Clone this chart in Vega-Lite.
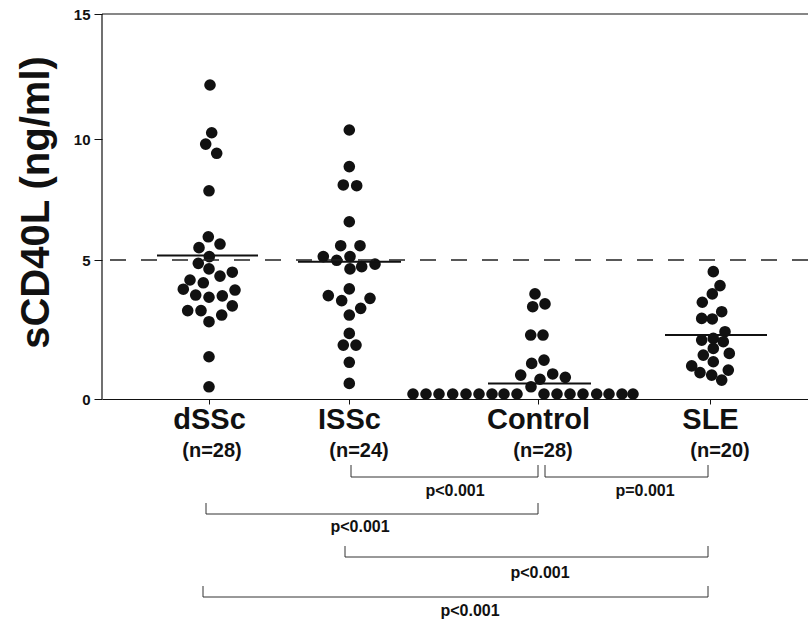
{
  "$schema": "https://vega.github.io/schema/vega-lite/v6.json",
  "width": 706,
  "height": 606,
  "autosize": {"type": "none"},
  "padding": {"left": 102, "top": 14, "right": 0, "bottom": 6},
  "background": "white",
  "config": {"view": {"stroke": null}, "font": "Liberation Sans"},
  "datasets": {
    "dots": [
      {"group": "dSSc", "x": 10.8, "value": 12.16},
      {"group": "dSSc", "x": 10.97, "value": 10.25},
      {"group": "dSSc", "x": 10.37, "value": 9.79},
      {"group": "dSSc", "x": 11.47, "value": 9.41},
      {"group": "dSSc", "x": 10.7, "value": 7.86},
      {"group": "dSSc", "x": 10.63, "value": 5.96},
      {"group": "dSSc", "x": 9.7, "value": 5.51},
      {"group": "dSSc", "x": 11.8, "value": 5.66},
      {"group": "dSSc", "x": 10.73, "value": 5.14},
      {"group": "dSSc", "x": 9.63, "value": 4.88},
      {"group": "dSSc", "x": 10.7, "value": 4.68},
      {"group": "dSSc", "x": 11.8, "value": 4.42},
      {"group": "dSSc", "x": 13.03, "value": 4.56},
      {"group": "dSSc", "x": 8.8, "value": 4.28},
      {"group": "dSSc", "x": 10.13, "value": 4.18},
      {"group": "dSSc", "x": 8.13, "value": 3.95},
      {"group": "dSSc", "x": 9.37, "value": 3.74},
      {"group": "dSSc", "x": 10.7, "value": 3.66},
      {"group": "dSSc", "x": 12.03, "value": 3.71},
      {"group": "dSSc", "x": 13.3, "value": 3.92},
      {"group": "dSSc", "x": 8.57, "value": 3.18},
      {"group": "dSSc", "x": 9.9, "value": 3.18},
      {"group": "dSSc", "x": 11.97, "value": 3.02},
      {"group": "dSSc", "x": 13.03, "value": 3.35},
      {"group": "dSSc", "x": 10.7, "value": 2.78},
      {"group": "dSSc", "x": 10.7, "value": 1.52},
      {"group": "dSSc", "x": 10.7, "value": 0.44},
      {"group": "ISSc", "x": 24.73, "value": 10.36},
      {"group": "ISSc", "x": 24.73, "value": 8.86},
      {"group": "ISSc", "x": 24.13, "value": 8.1},
      {"group": "ISSc", "x": 25.47, "value": 8.07},
      {"group": "ISSc", "x": 24.73, "value": 6.58},
      {"group": "ISSc", "x": 23.87, "value": 5.59},
      {"group": "ISSc", "x": 25.8, "value": 5.59},
      {"group": "ISSc", "x": 22.13, "value": 5.14},
      {"group": "ISSc", "x": 23.47, "value": 4.99},
      {"group": "ISSc", "x": 24.8, "value": 5.14},
      {"group": "ISSc", "x": 24.8, "value": 4.68},
      {"group": "ISSc", "x": 25.97, "value": 4.76},
      {"group": "ISSc", "x": 27.3, "value": 4.85},
      {"group": "ISSc", "x": 24.73, "value": 3.96},
      {"group": "ISSc", "x": 22.63, "value": 3.72},
      {"group": "ISSc", "x": 23.97, "value": 3.54},
      {"group": "ISSc", "x": 26.8, "value": 3.62},
      {"group": "ISSc", "x": 25.87, "value": 3.26},
      {"group": "ISSc", "x": 24.73, "value": 3.02},
      {"group": "ISSc", "x": 24.73, "value": 2.36},
      {"group": "ISSc", "x": 24.13, "value": 1.94},
      {"group": "ISSc", "x": 25.4, "value": 1.94},
      {"group": "ISSc", "x": 24.73, "value": 1.32},
      {"group": "ISSc", "x": 24.73, "value": 0.56},
      {"group": "Control", "x": 43.3, "value": 3.78},
      {"group": "Control", "x": 43.07, "value": 3.32},
      {"group": "Control", "x": 44.3, "value": 3.42},
      {"group": "Control", "x": 42.87, "value": 2.3},
      {"group": "Control", "x": 44.1, "value": 2.3},
      {"group": "Control", "x": 44.2, "value": 1.4},
      {"group": "Control", "x": 42.97, "value": 1.28},
      {"group": "Control", "x": 41.87, "value": 0.86},
      {"group": "Control", "x": 45.07, "value": 0.9},
      {"group": "Control", "x": 46.33, "value": 0.78},
      {"group": "Control", "x": 43.8, "value": 0.71},
      {"group": "Control", "x": 42.9, "value": 0.44},
      {"group": "Control", "x": 31.1, "value": 0.18},
      {"group": "Control", "x": 32.4, "value": 0.18},
      {"group": "Control", "x": 33.7, "value": 0.18},
      {"group": "Control", "x": 35.07, "value": 0.18},
      {"group": "Control", "x": 36.4, "value": 0.18},
      {"group": "Control", "x": 37.7, "value": 0.18},
      {"group": "Control", "x": 39.0, "value": 0.18},
      {"group": "Control", "x": 40.2, "value": 0.18},
      {"group": "Control", "x": 41.5, "value": 0.18},
      {"group": "Control", "x": 44.2, "value": 0.18},
      {"group": "Control", "x": 45.5, "value": 0.18},
      {"group": "Control", "x": 46.8, "value": 0.18},
      {"group": "Control", "x": 48.1, "value": 0.18},
      {"group": "Control", "x": 49.47, "value": 0.18},
      {"group": "Control", "x": 50.7, "value": 0.18},
      {"group": "Control", "x": 52.0, "value": 0.18},
      {"group": "Control", "x": 53.1, "value": 0.18},
      {"group": "SLE", "x": 61.13, "value": 4.58},
      {"group": "SLE", "x": 61.8, "value": 4.08},
      {"group": "SLE", "x": 61.03, "value": 3.78},
      {"group": "SLE", "x": 60.03, "value": 3.48},
      {"group": "SLE", "x": 61.97, "value": 3.14},
      {"group": "SLE", "x": 61.03, "value": 2.88},
      {"group": "SLE", "x": 59.97, "value": 2.9},
      {"group": "SLE", "x": 62.3, "value": 2.42},
      {"group": "SLE", "x": 59.97, "value": 2.12},
      {"group": "SLE", "x": 61.13, "value": 2.18},
      {"group": "SLE", "x": 62.13, "value": 2.06},
      {"group": "SLE", "x": 61.13, "value": 1.82},
      {"group": "SLE", "x": 60.13, "value": 1.58},
      {"group": "SLE", "x": 62.73, "value": 1.64},
      {"group": "SLE", "x": 61.13, "value": 1.34},
      {"group": "SLE", "x": 58.97, "value": 1.19},
      {"group": "SLE", "x": 62.63, "value": 1.04},
      {"group": "SLE", "x": 59.8, "value": 0.95},
      {"group": "SLE", "x": 60.97, "value": 0.86},
      {"group": "SLE", "x": 61.97, "value": 0.68}
    ],
    "means": [
      {"group": "dSSc", "x": 5.5, "x2": 15.6, "value": 5.19},
      {"group": "ISSc", "x": 19.6, "x2": 29.9, "value": 4.94},
      {"group": "Control", "x": 38.6, "x2": 48.9, "value": 0.56},
      {"group": "SLE", "x": 56.3, "x2": 66.5, "value": 2.3}
    ],
    "brackets": [
      {"pair": "ISSc-Control", "x": 24.9, "x2": 43.6, "value": -3.9, "top": -3.3},
      {"pair": "Control-SLE", "x": 44.3, "x2": 60.6, "value": -3.9, "top": -3.3},
      {"pair": "dSSc-Control", "x": 10.4, "x2": 43.6, "value": -5.75, "top": -5.2},
      {"pair": "ISSc-SLE", "x": 24.3, "x2": 60.6, "value": -7.9, "top": -7.35},
      {"pair": "dSSc-SLE", "x": 10.1, "x2": 60.6, "value": -9.9, "top": -9.35}
    ],
    "ptexts": [
      {"label": "p<0.001", "x": 35.3, "value": -4.6},
      {"label": "p=0.001", "x": 54.3, "value": -4.6},
      {"label": "p<0.001", "x": 25.8, "value": -6.4},
      {"label": "p<0.001", "x": 43.8, "value": -8.7},
      {"label": "p<0.001", "x": 36.8, "value": -10.6}
    ],
    "nlabels": [
      {"label": "(n=28)", "x": 11.0, "value": -2.62},
      {"label": "(n=24)", "x": 25.7, "value": -2.62},
      {"label": "(n=28)", "x": 44.1, "value": -2.62},
      {"label": "(n=20)", "x": 61.8, "value": -2.62}
    ],
    "refs": [
      {"kind": "upper limit", "value": 5}
    ]
  },
  "layer": [
    {
      "data": {"name": "dots"},
      "mark": {"type": "point", "filled": true, "color": "#111", "size": 135, "opacity": 1, "shape": "circle"},
      "encoding": {
        "x": {
          "field": "x", "type": "quantitative",
          "scale": {"domain": [0, 70.6], "nice": false, "zero": false},
          "axis": {
            "values": [10.7, 24.7, 43.6, 60.8],
            "labelExpr": "datum.value == 10.7 ? 'dSSc' : datum.value == 24.7 ? 'ISSc' : datum.value == 43.6 ? 'Control' : 'SLE'",
            "offset": -221,
            "domainColor": "#111", "domainWidth": 1.2,
            "tickColor": "#111", "tickSize": 5, "tickWidth": 1,
            "labelFontSize": 29, "labelFontWeight": "bold", "labelColor": "#111",
            "labelFont": "Liberation Sans",
            "labelPadding": 1, "labelFlush": false, "labelOverlap": false,
            "grid": false, "title": null
          }
        },
        "y": {
          "field": "value", "type": "quantitative",
          "scale": {"domain": [-11, 0, 5, 10, 15], "range": [605, 385, 246, 125, 0], "nice": false, "zero": false},
          "axis": {
            "values": [0, 5, 10, 15],
            "domain": false,
            "grid": false,
            "tickColor": "#111", "tickSize": 8, "tickWidth": 1,
            "labelFontSize": 15, "labelFontWeight": "bold", "labelColor": "#111",
            "labelFont": "Liberation Sans", "labelPadding": 4,
            "title": "sCD40L (ng/ml)",
            "titleFontSize": 40, "titleFontWeight": "bold", "titleColor": "#111",
            "titleFont": "Liberation Sans",
            "titleX": -66, "titleY": 188, "titleAngle": -90,
            "titleAlign": "center", "titleBaseline": "middle"
          }
        }
      }
    },
    {
      "data": {"name": "refs"},
      "mark": {"type": "rule", "color": "#222", "strokeWidth": 1.3, "strokeDash": [16, 15]},
      "encoding": {"y": {"field": "value", "type": "quantitative"}}
    },
    {
      "data": {"values": [{"edge": "top"}]},
      "mark": {"type": "rule", "color": "#111", "strokeWidth": 1.2},
      "encoding": {"y": {"datum": 15}}
    },
    {
      "data": {"values": [{"edge": "left"}]},
      "mark": {"type": "rule", "color": "#111", "strokeWidth": 1.2},
      "encoding": {"x": {"datum": 0}, "y": {"datum": 0}, "y2": {"datum": 15}}
    },
    {
      "data": {"name": "means"},
      "mark": {"type": "rule", "color": "#111", "strokeWidth": 2},
      "encoding": {
        "x": {"field": "x", "type": "quantitative"},
        "x2": {"field": "x2"},
        "y": {"field": "value", "type": "quantitative"}
      }
    },
    {
      "data": {"name": "brackets"},
      "mark": {"type": "rule", "color": "#333", "strokeWidth": 1},
      "encoding": {
        "x": {"field": "x", "type": "quantitative"},
        "x2": {"field": "x2"},
        "y": {"field": "value", "type": "quantitative"}
      }
    },
    {
      "data": {"name": "brackets"},
      "mark": {"type": "rule", "color": "#333", "strokeWidth": 1},
      "encoding": {
        "x": {"field": "x", "type": "quantitative"},
        "y": {"field": "value", "type": "quantitative"},
        "y2": {"field": "top"}
      }
    },
    {
      "data": {"name": "brackets"},
      "mark": {"type": "rule", "color": "#333", "strokeWidth": 1},
      "encoding": {
        "x": {"field": "x2", "type": "quantitative"},
        "y": {"field": "value", "type": "quantitative"},
        "y2": {"field": "top"}
      }
    },
    {
      "data": {"name": "ptexts"},
      "mark": {"type": "text", "font": "Liberation Sans", "fontWeight": "bold", "fontSize": 16, "color": "#111", "baseline": "middle", "align": "center"},
      "encoding": {
        "x": {"field": "x", "type": "quantitative"},
        "y": {"field": "value", "type": "quantitative"},
        "text": {"field": "label"}
      }
    },
    {
      "data": {"name": "nlabels"},
      "mark": {"type": "text", "font": "Liberation Sans", "fontWeight": "bold", "fontSize": 20, "color": "#111", "baseline": "middle", "align": "center"},
      "encoding": {
        "x": {"field": "x", "type": "quantitative"},
        "y": {"field": "value", "type": "quantitative"},
        "text": {"field": "label"}
      }
    }
  ]
}
